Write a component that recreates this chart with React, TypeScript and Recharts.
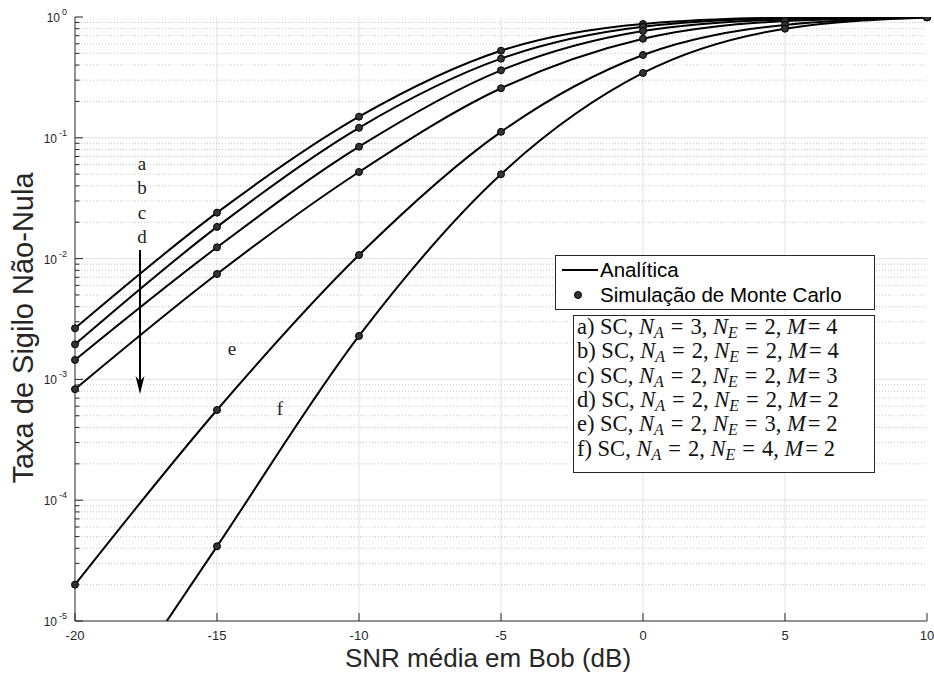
import { LineChart, Line, XAxis, YAxis, ReferenceLine } from "recharts"

// SNR (dB) em Bob
const snr = [-20, -15, -10, -5, 0, 5, 10]

// taxa de sigilo não-nula
const curveA = [2.65e-3, 2.4e-2, 0.1496, 0.526, 0.875, 0.985, 0.999]
const curveB = [1.95e-3, 1.83e-2, 0.121, 0.452, 0.83, 0.975, 0.999]
const curveC = [1.45e-3, 1.24e-2, 0.0844, 0.362, 0.766, 0.955, 0.998]
const curveD = [8.3e-4, 7.46e-3, 0.0521, 0.257, 0.661, 0.925, 0.997]
const curveE = [2.0e-5, 5.58e-4, 0.0107, 0.112, 0.485, 0.86, 0.995]
const curveF = [7.4e-7, 4.15e-5, 2.29e-3, 0.0499, 0.344, 0.8, 0.99]

const seriesKeys = ["a", "b", "c", "d", "e", "f"]
const naValues = [3, 2, 2, 2, 2, 2]
const neValues = [2, 2, 2, 2, 3, 4]
const mValues = [4, 4, 3, 2, 2, 2]

const decades = [1e-5, 1e-4, 1e-3, 1e-2, 1e-1, 1]
const minorSteps = [2, 3, 4, 5, 6, 7, 8, 9]

const AXIS = "#262626"
const SANS = "'Liberation Sans', Arial, Helvetica, sans-serif"
const SERIF = "'Liberation Serif', 'Times New Roman', serif"

const curves = [curveA, curveB, curveC, curveD, curveE, curveF]
const data = snr.map((x, i) => {
  const row: any = { snr: x }
  seriesKeys.forEach((k, j) => {
    row[k] = curves[j][i]
  })
  return row
})

const minorTicks: number[] = []
decades.slice(0, -1).forEach((d) => minorSteps.forEach((m) => minorTicks.push(m * d)))
const allYTicks = [...decades, ...minorTicks].sort((p, q) => p - q)

function isDecade(v: number) {
  const l = Math.log10(v)
  return Math.abs(l - Math.round(l)) < 1e-6
}

function LeftTick(props: any) {
  const { x, y, payload } = props
  const v = payload.value
  const major = isDecade(v)
  return (
    <g>
      <line x1={x} x2={x + (major ? 8 : 4.5)} y1={y} y2={y} stroke={AXIS} />
      {major && (
        <text x={x - 8} y={y + 5} textAnchor="end" fontSize={12} fill={AXIS} fontFamily={SANS}>
          10
          <tspan dx={2} dy={-7} fontSize={9}>
            {Math.round(Math.log10(v))}
          </tspan>
        </text>
      )}
    </g>
  )
}

function RightTick(props: any) {
  const { x, y, payload } = props
  const major = isDecade(payload.value)
  return <line x1={x} x2={x - (major ? 8 : 4.5)} y1={y} y2={y} stroke={AXIS} />
}

function BottomTick(props: any) {
  const { x, y, payload } = props
  return (
    <g>
      <line x1={x} x2={x} y1={y} y2={y - 8} stroke={AXIS} />
      <text x={x} y={y + 19} textAnchor="middle" fontSize={13} fill={AXIS} fontFamily={SANS}>
        {payload.value}
      </text>
    </g>
  )
}

function TopTick(props: any) {
  const { x, y } = props
  return <line x1={x} x2={x} y1={y} y2={y + 8} stroke={AXIS} />
}

function CaseText({ x, y, k, na, ne, m }: any) {
  return (
    <text x={x} y={y} fontFamily={SERIF} fontSize={22.5} fill="#111" style={{ whiteSpace: "pre" }}>
      {`${k}) SC, `}
      <tspan fontStyle="italic">N</tspan>
      <tspan fontStyle="italic" fontSize={16} dy={4}>A</tspan>
      <tspan dy={-4} dx={7}>=</tspan>
      <tspan dx={7}>{`${na}, `}</tspan>
      <tspan fontStyle="italic">N</tspan>
      <tspan fontStyle="italic" fontSize={16} dy={4}>E</tspan>
      <tspan dy={-4} dx={7}>=</tspan>
      <tspan dx={7}>{`${ne}, `}</tspan>
      <tspan fontStyle="italic">M</tspan>
      <tspan dx={2}>=</tspan>
      <tspan dx={6}>{`${m}`}</tspan>
    </text>
  )
}

export default function App() {
  return (
    <div style={{ position: "absolute", left: 0, top: 0, width: 934, height: 673, background: "#fff" }}>
      <LineChart width={934} height={673} data={data} margin={{ top: 17, right: 7, bottom: 0, left: 0 }}>
        {snr.slice(1, -1).map((v) => (
          <ReferenceLine key={"vx" + v} x={v} stroke="#e3e3e3" strokeWidth={1} />
        ))}
        {minorTicks.map((v) => (
          <ReferenceLine key={"mn" + v} y={v} stroke="#c4c4c4" strokeWidth={1} strokeDasharray="1 2" />
        ))}
        {decades.slice(1, -1).map((v) => (
          <ReferenceLine key={"mj" + v} y={v} stroke="#e3e3e3" strokeWidth={1} />
        ))}
        <XAxis
          dataKey="snr"
          type="number"
          domain={[-20, 10]}
          ticks={snr}
          interval={0}
          height={52}
          tickSize={0}
          tickMargin={0}
          tick={<BottomTick />}
          axisLine={{ stroke: AXIS }}
        />
        <XAxis
          xAxisId="top"
          orientation="top"
          dataKey="snr"
          type="number"
          domain={[-20, 10]}
          ticks={snr}
          interval={0}
          height={0}
          tickSize={0}
          tickMargin={0}
          tick={<TopTick />}
          axisLine={{ stroke: AXIS }}
        />
        <YAxis
          scale="log"
          type="number"
          domain={[1e-5, 1]}
          allowDataOverflow
          ticks={allYTicks}
          interval={0}
          width={75}
          tickSize={0}
          tickMargin={0}
          tick={<LeftTick />}
          axisLine={{ stroke: AXIS }}
        />
        <YAxis
          yAxisId="right"
          orientation="right"
          scale="log"
          type="number"
          domain={[1e-5, 1]}
          allowDataOverflow
          ticks={allYTicks}
          interval={0}
          width={0}
          tickSize={0}
          tickMargin={0}
          tick={<RightTick />}
          axisLine={{ stroke: AXIS }}
        />
        {seriesKeys.map((k) => (
          <Line
            key={k}
            dataKey={k}
            type="monotone"
            stroke="#000"
            strokeWidth={2}
            dot={{ r: 3.5, fill: "#333", stroke: "#000", strokeWidth: 1 }}
            isAnimationActive={false}
          />
        ))}
      </LineChart>
      <svg
        width={934}
        height={673}
        style={{ position: "absolute", left: 0, top: 0, pointerEvents: "none" }}
      >
        {/* títulos dos eixos */}
        <text x={488} y={667} textAnchor="middle" fontSize={26} fill={AXIS} fontFamily={SANS}>
          SNR média em Bob (dB)
        </text>
        <text
          x={33}
          y={328}
          textAnchor="middle"
          fontSize={29}
          fill={AXIS}
          fontFamily={SANS}
          transform="rotate(-90 33 328)"
        >
          Taxa de Sigilo Não-Nula
        </text>

        {/* rótulos das curvas e seta */}
        {seriesKeys.slice(0, 4).map((k, i) => (
          <text key={k} x={142} y={170 + i * 24.3} textAnchor="middle" fontSize={19} fontFamily={SERIF} fill="#222">
            {k}
          </text>
        ))}
        <text x={232} y={355} textAnchor="middle" fontSize={19} fontFamily={SERIF} fill="#222">
          e
        </text>
        <text x={280} y={415} textAnchor="middle" fontSize={19} fontFamily={SERIF} fill="#222">
          f
        </text>
        <line x1={140} y1={250} x2={140} y2={384} stroke="#000" strokeWidth={2} />
        <polygon points="135.5,376 140,394 144.5,376 140,381" fill="#000" />

        {/* legenda */}
        <rect x={555.5} y={255.5} width={319} height={54} fill="#fff" stroke={AXIS} strokeWidth={1} />
        <line x1={562} x2={598} y1={270} y2={270} stroke="#000" strokeWidth={2} />
        <text x={600} y={277} fontSize={20.5} fontFamily={SANS} fill="#000">
          Analítica
        </text>
        <circle cx={578} cy={295} r={3.5} fill="#333" stroke="#000" strokeWidth={1} />
        <text x={600} y={302} fontSize={20.5} fontFamily={SANS} fill="#000">
          Simulação de Monte Carlo
        </text>

        <rect x={573.5} y={315.5} width={301} height={157} fill="#fff" stroke={AXIS} strokeWidth={1} />
        {seriesKeys.map((k, i) => (
          <CaseText key={k} x={577} y={334 + i * 24.3} k={k} na={naValues[i]} ne={neValues[i]} m={mValues[i]} />
        ))}
      </svg>
    </div>
  )
}
